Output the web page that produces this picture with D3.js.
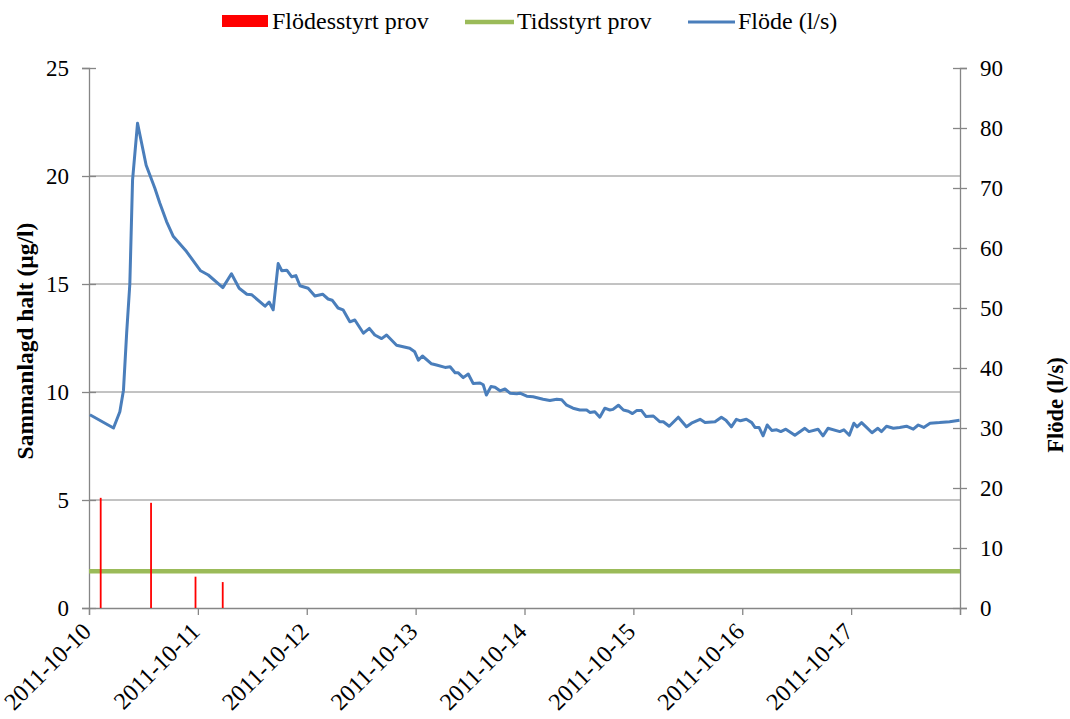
<!DOCTYPE html>
<html>
<head>
<meta charset="utf-8">
<script src="https://cdn.jsdelivr.net/npm/d3@7"></script>
<style>
  body { margin: 0; background: #fff; }
  svg text { font-family: "Liberation Serif", "Times New Roman", serif; fill: #000; }
</style>
</head>
<body>
<div id="chart"></div>
<script>
// hours after 2011-10-10 00:00
const flowHours = [0.2, 5.4, 6.8, 7.6, 8.3, 9.0, 9.6, 10.7, 12.6, 14.5, 15.6, 17.1, 18.6, 21.5, 24.6, 26.3,
  29.5, 31.4, 33.1, 34.8, 35.9, 38.8, 39.7, 40.6, 41.7, 42.5, 43.6, 44.7, 45.6, 46.5, 48.3, 49.8,
  51.5, 52.7, 53.6, 54.9, 56.0, 57.5, 58.6, 60.5, 61.8, 63.0, 64.5, 65.6, 67.8, 70.7, 71.8, 72.6,
  73.5, 75.5, 76.6, 78.5, 79.6, 80.7, 81.4, 82.5, 83.6, 84.7, 86.2, 86.9, 87.6, 88.6, 89.5, 90.6,
  91.7, 92.8, 94.3, 95.0, 96.5, 97.9, 100.1, 101.6, 103.1, 104.2, 105.3, 106.7, 108.2, 109.7, 110.4,
  111.5, 112.6, 113.7, 114.8, 115.5, 116.7, 117.8, 118.9, 119.8, 120.7, 121.8, 122.8, 124.4, 125.8,
  126.6, 127.9, 129.9, 131.7, 132.8, 134.7, 135.8, 138.0, 139.4, 140.4, 141.6, 142.7, 143.6, 144.9,
  146.1, 146.8, 147.7, 148.6, 149.5, 150.5, 151.6, 152.5, 153.6, 155.6, 157.8, 158.7, 160.7, 161.8,
  162.9, 165.5, 166.4, 167.6, 168.6, 169.3, 170.3, 171.4, 172.6, 173.9, 174.7, 175.8, 177.3, 178.7,
  180.2, 181.7, 182.8, 184.0, 185.4, 187.5, 189.7, 191.9];
const flowValues = [32.2, 30.0, 32.7, 36.3, 45.8, 54.0, 71.3, 80.8, 73.8, 70.0, 67.5, 64.4, 61.9, 59.4, 56.2, 55.5,
  53.4, 55.7, 53.3, 52.3, 52.2, 50.3, 51.0, 49.7, 57.4, 56.2, 56.3, 55.2, 55.4, 53.7, 53.3, 52.0,
  52.3, 51.5, 51.3, 50.0, 49.7, 47.7, 48.0, 45.8, 46.6, 45.5, 44.9, 45.5, 43.8, 43.3, 42.7, 41.3,
  42.0, 40.7, 40.5, 40.1, 40.2, 39.2, 39.2, 38.4, 39.0, 37.4, 37.5, 37.2, 35.5, 36.9, 36.8, 36.2,
  36.5, 35.8, 35.7, 35.8, 35.3, 35.2, 34.8, 34.6, 34.8, 34.7, 33.8, 33.3, 33.0, 33.0, 32.6,
  32.7, 31.8, 33.3, 33.0, 33.1, 33.8, 33.0, 32.8, 32.4, 32.9, 32.9, 31.9, 32.0, 31.05,
  31.05, 30.3, 31.8, 30.2, 30.8, 31.45, 30.9, 31.05, 31.8, 31.3, 30.2, 31.45, 31.2, 31.45,
  30.9, 30.1, 30.1, 28.7, 30.5, 29.6, 29.7, 29.4, 29.8, 28.8, 29.95, 29.4, 29.8, 28.7,
  29.95, 29.4, 29.7, 28.8, 30.8, 30.2, 30.9, 30.1, 29.2, 29.95, 29.4, 30.3, 29.95, 30.1,
  30.3, 29.8, 30.5, 30.1, 30.8, 30.9, 31.05, 31.3];

const sampleHours = [2.6, 13.7, 23.5, 29.5];
const sampleValues = [5.1, 4.87, 1.45, 1.2];

const timedStart = 0, timedEnd = 192;
const timedValue = 1.7;

const dayLabels = ["2011-10-10", "2011-10-11", "2011-10-12", "2011-10-13",
  "2011-10-14", "2011-10-15", "2011-10-16", "2011-10-17"];
const leftTicks = [0, 5, 10, 15, 20, 25];
const rightTicks = [0, 10, 20, 30, 40, 50, 60, 70, 80, 90];

const W = 1070, H = 719;
const margin = {left: 89, right: 110, top: 68, bottom: 111};
const axisColor = "#868686";

const svg = d3.select("#chart").append("svg")
  .attr("width", W).attr("height", H);

const x = d3.scaleLinear().domain([0, 192]).range([margin.left, W - margin.right]);
const yL = d3.scaleLinear().domain([0, 25]).range([H - margin.bottom, margin.top]);
const yR = d3.scaleLinear().domain([0, 90]).range([H - margin.bottom, margin.top]);

// gridlines
svg.append("g").selectAll("line")
  .data(leftTicks.filter(d => d > 0 && d < 25))
  .join("line")
  .attr("x1", x(0)).attr("x2", x(192))
  .attr("y1", d => yL(d)).attr("y2", d => yL(d))
  .attr("stroke", axisColor).attr("stroke-width", 1);

// left axis
const leftAxis = svg.append("g")
  .attr("transform", `translate(${x(0)},0)`)
  .call(d3.axisLeft(yL).tickValues(leftTicks).tickSize(7).tickPadding(13).tickFormat(d3.format("d")));

// right axis
const rightAxis = svg.append("g")
  .attr("transform", `translate(${x(192)},0)`)
  .call(d3.axisRight(yR).tickValues(rightTicks).tickSize(7).tickPadding(13).tickFormat(d3.format("d")));

// x axis
const dayTicks = d3.range(0, 9).map(d => d * 24);
const xAxis = svg.append("g")
  .attr("transform", `translate(0,${yL(0)})`)
  .call(d3.axisBottom(x).tickValues(dayTicks).tickSize(7).tickFormat(d => dayLabels[d / 24] || ""));

[leftAxis, rightAxis, xAxis].forEach(a => {
  a.select(".domain").attr("stroke", axisColor).attr("stroke-width", 1.3);
  a.selectAll(".tick line").attr("stroke", axisColor).attr("stroke-width", 1.3);
  a.selectAll("text").style("font-size", "23px").attr("fill", "#000");
});

// ticks cross the vertical axes
leftAxis.selectAll(".tick line").attr("x1", 7);
rightAxis.selectAll(".tick line").attr("x1", -7);

xAxis.selectAll(".tick text")
  .style("font-size", "24px")
  .attr("text-anchor", "end")
  .attr("transform", "translate(-3,19) rotate(-45)")
  .attr("dy", "0.35em")
  .attr("y", 0).attr("x", 0);

// timed sample line (green)
svg.append("line")
  .attr("x1", x(timedStart)).attr("x2", x(timedEnd))
  .attr("y1", yL(timedValue)).attr("y2", yL(timedValue))
  .attr("stroke", "#9bbb59").attr("stroke-width", 4.5);

// flow controlled samples (red bars)
svg.append("g").selectAll("rect")
  .data(sampleHours.map((h, i) => ({h, v: sampleValues[i]})))
  .join("rect")
  .attr("x", d => x(d.h) - 1)
  .attr("width", 1.8)
  .attr("y", d => yL(d.v))
  .attr("height", d => yL(0) - yL(d.v))
  .attr("fill", "#ff0000");

// flow line (right axis)
const line = d3.line()
  .x((d, i) => x(flowHours[i]))
  .y(d => yR(d));
svg.append("path")
  .datum(flowValues)
  .attr("d", line)
  .attr("fill", "none")
  .attr("stroke", "#4a7ebb")
  .attr("stroke-width", 3)
  .attr("stroke-linejoin", "round");

// axis titles
svg.append("text")
  .attr("transform", `translate(33,341) rotate(-90)`)
  .attr("text-anchor", "middle")
  .style("font-size", "23.5px").style("font-weight", "bold")
  .text("Sammanlagd halt (µg/l)");

svg.append("text")
  .attr("transform", `translate(1063,405) rotate(-90)`)
  .attr("text-anchor", "middle")
  .style("font-size", "22.5px").style("font-weight", "bold")
  .text("Flöde (l/s)");

// legend
const legend = svg.append("g").style("font-size", "24px");
legend.append("rect").attr("x", 222).attr("y", 15).attr("width", 46).attr("height", 12).attr("fill", "#ff0000");
legend.append("text").attr("x", 272).attr("y", 29).text("Flödesstyrt prov");
legend.append("line").attr("x1", 465).attr("x2", 514).attr("y1", 22).attr("y2", 22)
  .attr("stroke", "#9bbb59").attr("stroke-width", 4.5);
legend.append("text").attr("x", 517).attr("y", 29).text("Tidsstyrt prov");
legend.append("line").attr("x1", 688).attr("x2", 735).attr("y1", 22).attr("y2", 22)
  .attr("stroke", "#4a7ebb").attr("stroke-width", 3);
legend.append("text").attr("x", 738).attr("y", 29).text("Flöde (l/s)");
</script>
</body>
</html>
